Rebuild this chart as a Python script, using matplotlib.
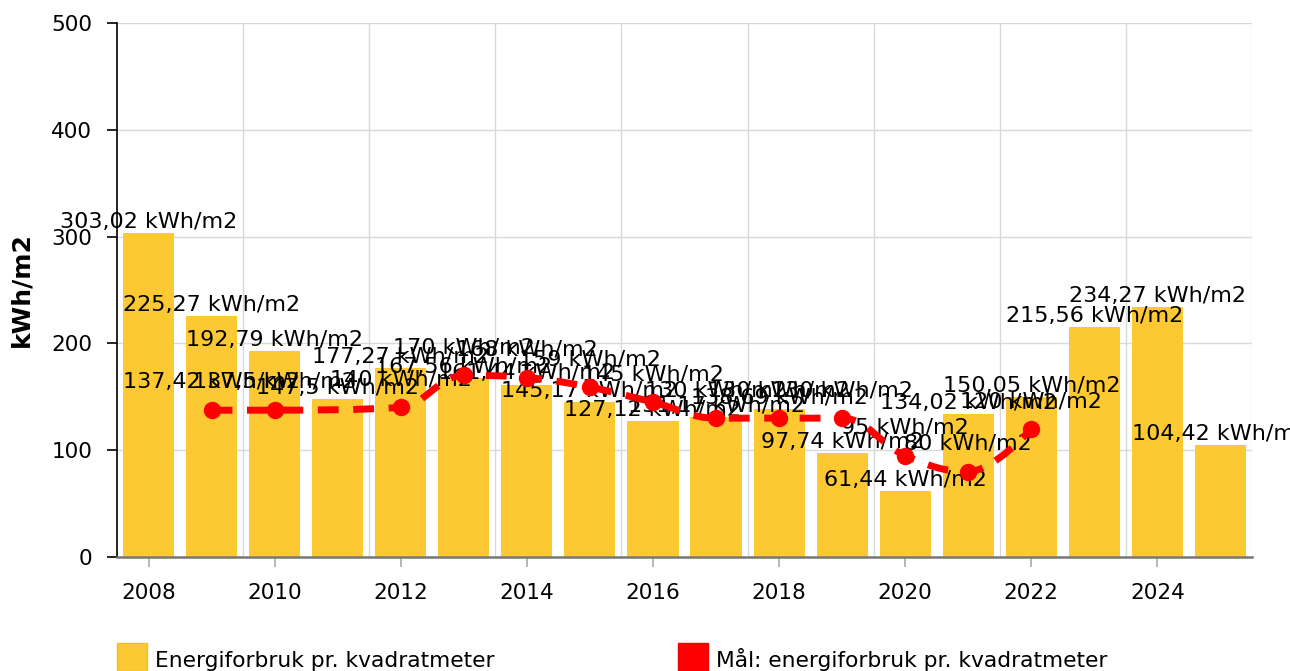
import matplotlib
matplotlib.use("Agg")
import matplotlib.pyplot as plt
from matplotlib.path import Path
from matplotlib.patches import PathPatch, Rectangle

# ---------------- data ----------------
years = [2008, 2009, 2010, 2011, 2012, 2013, 2014, 2015, 2016,
         2017, 2018, 2019, 2020, 2021, 2022, 2023, 2024, 2025]
energy = [303.02, 225.27, 192.79, 147.5, 177.27, 167.56, 161.44, 145.17, 127.12,
          131.17, 138.69, 97.74, 61.44, 134.02, 150.05, 215.56, 234.27, 104.42]

target_years = [2009, 2010, 2012, 2013, 2014, 2015, 2016,
                2017, 2018, 2019, 2020, 2021, 2022]
target = [137.42, 137.5, 140, 170, 168, 159, 145,
          130, 130, 130, 95, 80, 120]

x_ticks = [2008, 2010, 2012, 2014, 2016, 2018, 2020, 2022, 2024]
y_ticks = [0, 100, 200, 300, 400, 500]
unit = "kWh/m2"
series_names = ["Energiforbruk pr. kvadratmeter", "Mål: energiforbruk pr. kvadratmeter"]

BAR_COLOR = "#FCC933"
RED = "#FF0000"


def fmt(v):
    return f"{v:g}".replace(".", ",") + " " + unit


def hc_spline(xs, ys, smoothing=1.5):
    n = len(xs)
    left = [None] * n
    right = [None] * n
    denom = smoothing + 1
    for i in range(1, n - 1):
        px, py = xs[i], ys[i]
        lx, ly = xs[i - 1], ys[i - 1]
        nx, ny = xs[i + 1], ys[i + 1]
        lcx = (smoothing * px + lx) / denom
        lcy = (smoothing * py + ly) / denom
        rcx = (smoothing * px + nx) / denom
        rcy = (smoothing * py + ny) / denom
        corr = 0
        if rcx != lcx:
            corr = ((rcy - lcy) * (rcx - px)) / (rcx - lcx) + py - rcy
        lcy += corr
        rcy += corr
        if lcy > ly and lcy > py:
            lcy = max(ly, py); rcy = 2 * py - lcy
        elif lcy < ly and lcy < py:
            lcy = min(ly, py); rcy = 2 * py - lcy
        if rcy > ny and rcy > py:
            rcy = max(ny, py); lcy = 2 * py - rcy
        elif rcy < ny and rcy < py:
            rcy = min(ny, py); lcy = 2 * py - rcy
        left[i] = (lcx, lcy)
        right[i] = (rcx, rcy)
    verts = [(xs[0], ys[0])]
    codes = [Path.MOVETO]
    for i in range(1, n):
        c1 = right[i - 1] if right[i - 1] is not None else (xs[i - 1], ys[i - 1])
        c2 = left[i] if left[i] is not None else (xs[i], ys[i])
        verts += [c1, c2, (xs[i], ys[i])]
        codes += [Path.CURVE4] * 3
    return Path(verts, codes)


W, H = 1290, 671
fig = plt.figure(figsize=(W / 100, H / 100), dpi=100)
ax = fig.add_axes([117 / W, (H - 557) / H, (1252 - 117) / W, (557 - 23) / H])

ax.bar(years, energy, width=0.81, color=BAR_COLOR, zorder=2)

for x, v in zip(years, energy):
    ax.annotate(fmt(v), (x, v), xytext=(0, 8), textcoords="offset points",
                ha="center", va="center", fontsize=16, color="black", zorder=3)

path = hc_spline(target_years, target)
ax.add_patch(PathPatch(path, facecolor="none", edgecolor=RED, lw=5,
                       linestyle=(0, (3.0, 2.1)), zorder=4))
ax.plot(target_years, target, "o", color=RED, ms=11.5, zorder=5, linestyle="none")

for x, v in zip(target_years, target):
    ax.annotate(fmt(v), (x, v), xytext=(0, 20), textcoords="offset points",
                ha="center", va="center", fontsize=16, color="black", zorder=3)

ax.set_xlim(2007.5, 2025.5)
ax.set_ylim(0, 500)
ax.set_xticks(x_ticks)
ax.set_xticklabels([str(t) for t in x_ticks])
ax.set_xticks([y + 0.5 for y in range(2009, 2026, 2)], minor=True)
ax.set_yticks(y_ticks)

ax.set_axisbelow(True)
ax.yaxis.grid(True, color="#d9d9d9", lw=1.0)
ax.xaxis.grid(True, which="minor", color="#d9d9d9", lw=1.0)
ax.xaxis.grid(False, which="major")

ax.tick_params(axis="y", length=7.2, width=1.2, color="black", pad=10.5, labelsize=15.5)
ax.tick_params(axis="x", which="major", length=7, width=1.2, color="#aaaaaa", pad=12, labelsize=15.5)
ax.tick_params(axis="x", which="minor", length=0)

for s in ("top", "right"):
    ax.spines[s].set_visible(False)
ax.spines["left"].set_color("black")
ax.spines["left"].set_linewidth(1.2)
ax.spines["bottom"].set_color("#777777")
ax.spines["bottom"].set_linewidth(1.8)

ax.set_ylabel(unit, fontsize=18, fontweight="bold")
ax.yaxis.set_label_coords(-0.074, 0.5)

# legend (manual, at the bottom)
fig.add_artist(Rectangle((117 / W, 0), 30 / W, 28 / H, transform=fig.transFigure,
                         facecolor=BAR_COLOR, edgecolor="#F5BE20", lw=1))
fig.text(155 / W, 4 / H, series_names[0], fontsize=15.7, va="baseline", ha="left")
fig.add_artist(Rectangle((678 / W, 0), 30 / W, 28 / H, transform=fig.transFigure,
                         facecolor=RED, edgecolor="#EE0000", lw=1))
fig.text(716 / W, 4 / H, series_names[1], fontsize=15.7, va="baseline", ha="left")

fig.savefig("out.png", dpi=100)
